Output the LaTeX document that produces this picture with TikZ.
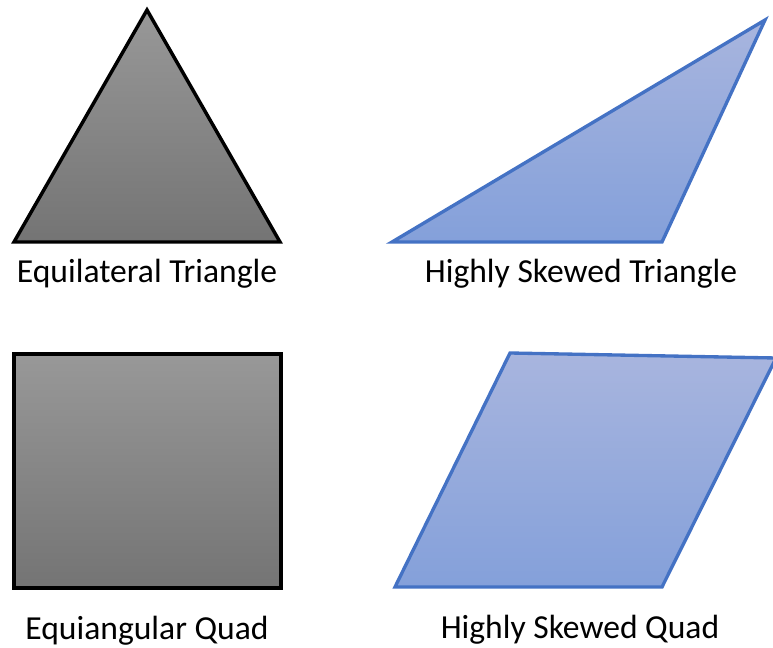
\documentclass[tikz,border=0pt]{standalone}
\usepackage{fontspec}
\setmainfont{Carlito}
\usetikzlibrary{positioning}

\definecolor{greytop}{RGB}{152,152,152}
\definecolor{greybot}{RGB}{116,116,116}
\definecolor{bluetop}{RGB}{168,181,222}
\definecolor{bluebot}{RGB}{132,160,218}
\definecolor{blueline}{RGB}{68,114,196}

\tikzset{
    greyshape/.style={draw=black, line width=2.6pt, top color=greytop, bottom color=greybot},
    blueshape/.style={draw=blueline, line width=2.5pt, top color=bluetop, bottom color=bluebot},
    caption/.style={anchor=base, font=\fontsize{25.2}{30}\selectfont, inner sep=0pt}
}

\begin{document}
\begin{tikzpicture}[x=0.75pt, y=-0.75pt]
        \useasboundingbox (0,0) rectangle (773,648);

        %triangolo equilatero
        \draw[greyshape] (147,10)-- (280,242)-- (14,242)-- cycle;
        \node[caption] (eqtri) at (147,282) {Equilateral Triangle};

        %triangolo distorto
        \draw[blueshape] (765,20)-- (662,242)-- (392,242)-- cycle;
        \node[caption] (skewtri) at (581,282) {Highly Skewed Triangle};

        %quadrato
        \draw[greyshape] (14,354) rectangle (281,588);
        \node[caption] (eqquad) at (147,639) {Equiangular Quad};

        %parallelogramma
        \draw[blueshape] (510,353)-- (776,358)-- (662,587)-- (395,587)-- cycle;
        \node[caption] (skewquad) at (580,638) {Highly Skewed Quad};
    \end{tikzpicture}
\end{document}
